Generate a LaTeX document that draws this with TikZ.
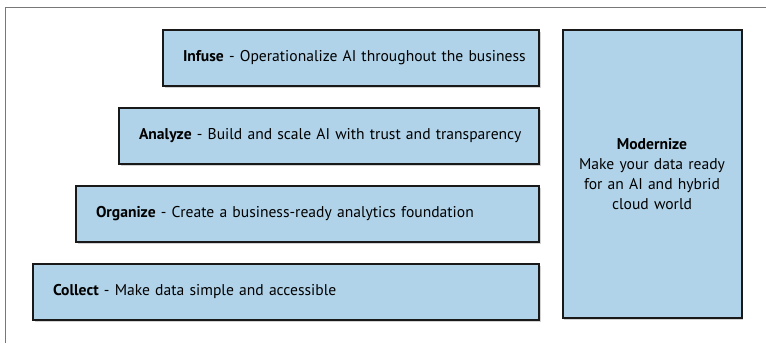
\documentclass[tikz,border=0pt]{standalone}
\usepackage{fontspec}
\setmainfont{PT Sans}[WordSpace=0.7]
\usetikzlibrary{shadows}

\definecolor{layerblue}{RGB}{176,211,233}
\definecolor{framegray}{RGB}{120,120,120}

\begin{document}
\begin{tikzpicture}[x=1pt,y=-1pt]

      \useasboundingbox (0,0) rectangle (766,343);
      \draw[framegray, line width=1pt] (5,343) |- (766,7);

      \begin{scope}[every node/.style={draw=black!90, line width=2pt, fill=layerblue,
          drop shadow={shadow xshift=1.8pt, shadow yshift=-2.2pt, opacity=0.35},
          anchor=north west, minimum height=55.5pt, inner xsep=20pt, align=left,
          font=\fontsize{15.6}{20}\selectfont}]
        \node[text width=336pt] (infuse)   at (162,29)  {\mbox{\textbf{Infuse} - Operationalize AI throughout the business}};
        \node[text width=380pt] (analyze)  at (118,107) {\mbox{\textbf{Analyze} - Build and scale AI with trust and transparency}};
        \node[text width=423pt] (organize) at (75,185)  {\mbox{\textbf{Organize} - Create a business-ready analytics foundation}};
        \node[text width=466pt] (collect)  at (32,263)  {\mbox{\textbf{Collect} - Make data simple and accessible}};
        \node[text width=159pt, inner xsep=10pt, align=center, minimum height=288pt] (modernize) at (561.5,29)
          {\textbf{Modernize}\\Make your data ready\\for an AI and hybrid\\cloud world};
      \end{scope}

    \end{tikzpicture}
\end{document}
